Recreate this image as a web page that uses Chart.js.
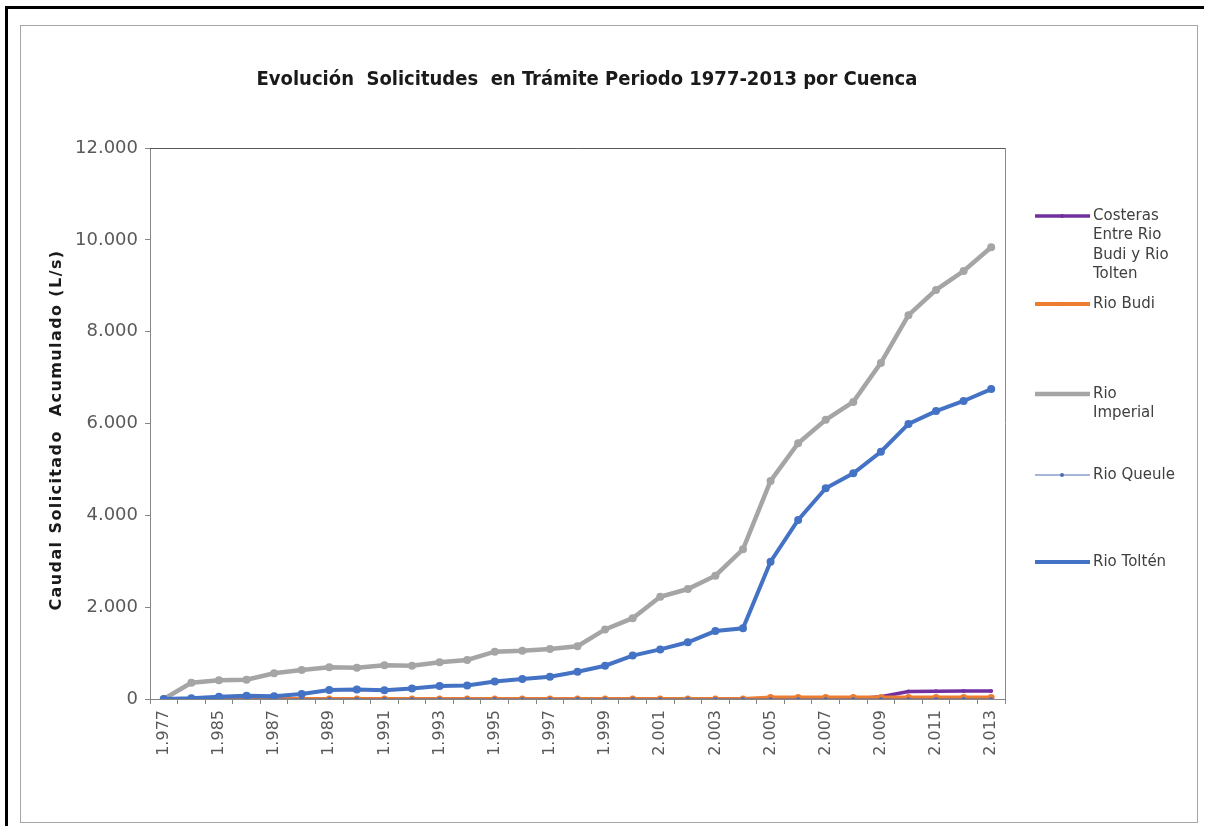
<!DOCTYPE html>
<html>
<head>
<meta charset="utf-8">
<script src="https://cdn.jsdelivr.net/npm/chart.js@4/dist/chart.umd.min.js"></script>
<style>
  html, body { margin: 0; padding: 0; background: #fff; }
  #wrap { position: relative; width: 1209px; height: 826px; }
</style>
</head>
<body>
<div id="wrap"><canvas id="c" width="1209" height="826"></canvas></div>
<script>
// Years on the category axis (label shown on every other one)
const years = [1977, 1984, 1985, 1986, 1987, 1988, 1989, 1990, 1991, 1992, 1993, 1994, 1995,
  1996, 1997, 1998, 1999, 2000, 2001, 2002, 2003, 2004, 2005, 2006, 2007, 2008, 2009,
  2010, 2011, 2012, 2013];

// Accumulated requested flow (L/s) per basin
const costeras = [0, 0, 0, 0, 0, 0, 0, 0, 0, 0, 0, 0, 0, 0, 0, 0, 0, 0, 0, 0, 0, 0, 0, 0, 0, 0,
  50, 165, 170, 175, 175];
const rioBudi = [0, 0, 0, 0, 0, 0, 0, 0, 0, 0, 0, 0, 0, 0, 0, 0, 0, 0, 0, 0, 0, 0, 30, 30, 30, 30,
  30, 35, 35, 35, 35];
const rioImperial = [0, 355, 410, 420, 560, 630, 690, 680, 735, 725, 800, 850, 1030, 1050, 1090,
  1150, 1515, 1760, 2225, 2395, 2685, 3260, 4750, 5570, 6080, 6470, 7320, 8360, 8910, 9320, 9840];
const rioQueule = [0, 0, 0, 0, 0, 0, 0, 0, 0, 0, 0, 0, 0, 0, 0, 0, 0, 0, 0, 0, 0, 0, 0, 0, 0, 0,
  0, 0, 0, 0, 0];
const rioTolten = [0, 15, 50, 70, 60, 110, 195, 205, 190, 230, 285, 295, 380, 435, 485, 595, 725,
  945, 1080, 1235, 1480, 1540, 2990, 3900, 4590, 4915, 5385, 5990, 6270, 6490, 6750];

// Y axis ticks
const yTicks = [0, 2000, 4000, 6000, 8000, 10000, 12000];

const seriesNames = ['Costeras Entre Rio Budi y Rio Tolten', 'Rio Budi', 'Rio Imperial', 'Rio Queule', 'Rio Toltén'];
// Wrapped legend text, as laid out in the side legend
const legendLines = [
  ['Costeras', 'Entre Rio', 'Budi y Rio', 'Tolten'],
  ['Rio Budi'],
  ['Rio', 'Imperial'],
  ['Rio Queule'],
  ['Rio Toltén']
];

const fmt = v => Number(v).toLocaleString('de-DE');

const frame = {
  id: 'frame',
  beforeDraw(chart) {
    const ctx = chart.ctx;
    ctx.save();
    ctx.fillStyle = '#fff';
    ctx.fillRect(0, 0, chart.width, chart.height);
    // outer black border (top and left)
    ctx.strokeStyle = '#000';
    ctx.lineWidth = 3;
    ctx.beginPath();
    ctx.moveTo(6.5, 826);
    ctx.lineTo(6.5, 7.5);
    ctx.lineTo(1204, 7.5);
    ctx.stroke();
    // chart frame
    ctx.strokeStyle = '#a6a6a6';
    ctx.lineWidth = 1;
    ctx.strokeRect(20.5, 25.5, 1177, 797);
    ctx.restore();
  },
  afterDatasetsDraw(chart) {
    const ctx = chart.ctx;
    const a = chart.chartArea;
    ctx.save();
    ctx.strokeStyle = '#5a5a5a';
    ctx.lineWidth = 1;
    ctx.beginPath();
    ctx.moveTo(a.left, a.top + 0.5);
    ctx.lineTo(a.right + 0.5, a.top + 0.5);
    ctx.stroke();
    ctx.strokeStyle = '#8a8a8a';
    ctx.beginPath();
    ctx.moveTo(a.right + 0.5, a.top);
    ctx.lineTo(a.right + 0.5, a.bottom);
    ctx.stroke();
    ctx.restore();
  },
  afterDraw(chart) {
    const ctx = chart.ctx;
    ctx.save();
    // title
    ctx.fillStyle = '#1a1a1a';
    ctx.font = 'bold 20px "DejaVu Sans Condensed", "Liberation Sans Narrow", sans-serif';
    ctx.textAlign = 'center';
    ctx.textBaseline = 'middle';
    ctx.fillText('Evolución  Solicitudes  en Trámite Periodo 1977-2013 por Cuenca', 587, 80);

    // y axis title
    ctx.save();
    ctx.translate(57, 430);
    ctx.rotate(-Math.PI / 2);
    ctx.font = 'bold 16px "DejaVu Sans", Verdana, sans-serif';
    ctx.letterSpacing = '1.4px';
    ctx.fillText('Caudal Solicitado  Acumulado (L/s)', 0, 0);
    ctx.restore();

    // legend
    const ys = [216, 304, 394, 475, 562];
    ctx.font = '15px "DejaVu Sans", sans-serif';
    ctx.textAlign = 'left';
    ctx.textBaseline = 'middle';
    chart.data.datasets.forEach((ds, i) => {
      const y = ys[i];
      ctx.strokeStyle = ds.borderColor;
      ctx.lineWidth = ds.borderWidth;
      ctx.beginPath();
      ctx.moveTo(1035, y);
      ctx.lineTo(1090, y);
      ctx.stroke();
      if (ds.pointRadius > 0) {
        ctx.fillStyle = ds.borderColor;
        ctx.beginPath();
        ctx.arc(1062, y, Math.min(ds.pointRadius, 2), 0, Math.PI * 2);
        ctx.fill();
      }
      ctx.fillStyle = '#404040';
      legendLines[i].forEach((t, k) => ctx.fillText(t, 1093, y + k * 19.5));
    });
    ctx.restore();
  }
};

const mk = (label, data, color, width, radius) => ({
  label, data,
  borderColor: color, backgroundColor: color,
  borderWidth: width, pointRadius: radius, pointHoverRadius: radius,
  pointBorderWidth: 0, pointBackgroundColor: color,
  tension: 0, fill: false
});

new Chart(document.getElementById('c'), {
  type: 'line',
  data: {
    labels: years,
    datasets: [
      mk(seriesNames[0], costeras, '#7030A0', 3.5, 2),
      mk(seriesNames[1], rioBudi, '#ED7D31', 4, 3.5),
      mk(seriesNames[2], rioImperial, '#A5A5A5', 4.5, 4),
      mk(seriesNames[3], rioQueule, '#4F6DB0', 1, 2),
      mk(seriesNames[4], rioTolten, '#4472C4', 4, 4)
    ].map((d, i, arr) => Object.assign(d, { order: arr.length - i }))
  },
  options: {
    responsive: false,
    animation: false,
    events: [],
    layout: { padding: { left: 0, top: 148, right: 204, bottom: 0 } },
    plugins: { legend: { display: false }, title: { display: false }, tooltip: { enabled: false } },
    scales: {
      x: {
        type: 'category',
        offset: true,
        grid: { display: true, drawOnChartArea: false, drawTicks: true, tickLength: 5, offset: true, color: '#868686' },
        border: { display: true, color: '#868686' },
        ticks: {
          autoSkip: false, minRotation: 90, maxRotation: 90, padding: 6,
          color: '#595959',
          font: { family: '"DejaVu Sans", Verdana, sans-serif', size: 16 },
          callback: function (v, i) { return i % 2 === 0 ? fmt(years[i]) : ''; }
        },
        afterFit(scale) { scale.height = 826 - 699; }
      },
      y: {
        min: 0, max: 12000,
        afterBuildTicks(scale) { scale.ticks = yTicks.map(v => ({ value: v })); },
        grid: { display: true, drawOnChartArea: false, drawTicks: true, tickLength: 5, color: '#868686' },
        border: { display: true, color: '#868686' },
        ticks: {
          padding: 7,
          color: '#595959',
          font: { family: '"DejaVu Sans", Verdana, sans-serif', size: 18 },
          callback: v => fmt(v)
        },
        afterFit(scale) { scale.width = 150; }
      }
    }
  },
  plugins: [frame]
});
</script>
</body>
</html>
